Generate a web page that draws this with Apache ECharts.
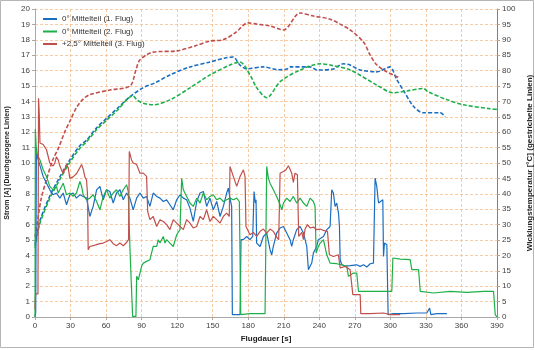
<!DOCTYPE html>
<html><head><meta charset="utf-8">
<script src="https://cdn.jsdelivr.net/npm/echarts@6/dist/echarts.min.js"></script>
<style>html,body{margin:0;padding:0;background:#fff}#c{width:535px;height:350px}</style>
</head><body><div id="c"></div>
<script>
// ---- data ----
const seriesNames = ['0° Mittelteil (1. Flug)', '0° Mittelteil (2. Flug)', '+2,5° Mittelteil (3. Flug)'];
const xTicks = [0,30,60,90,120,150,180,210,240,270,300,330,360,390];

// current [A], solid lines: [time s, current A]
const current1 = [[0,0],[0.6,0.3],[1.2,11.0],[2,10.4],[6.9,9.13],[12.5,8.26],[15.3,7.94],[18.1,8.05],[21,7.72],[23.8,8.05],[26.6,7.29],[29.4,7.94],[32.2,8.05],[35,7.72],[37.9,7.94],[40.7,7.83],[43.5,7.72],[46.3,6.53],[47.7,6.64],[49.1,7.18],[52,8.26],[54.8,8.48],[57.6,7.61],[60.4,8.26],[63.2,8.15],[66,7.4],[68.8,8.05],[71.7,8.26],[74.5,7.61],[77.3,8.05],[80.1,7.72],[82.9,6.96],[85.8,7.72],[88.6,8.05],[91.4,7.72],[94.2,7.83],[97,7.18],[99.8,8.05],[102.7,7.83],[105.5,7.72],[108.3,7.5],[111.1,7.61],[113.9,7.29],[116.7,6.96],[119.6,7.61],[122.4,7.94],[125.2,7.72],[128,7.61],[130.8,7.07],[133.6,6.21],[136.5,7.5],[139.3,8.05],[142.1,8.15],[144.9,7.18],[147.7,7.72],[150.5,6.96],[153.4,7.5],[156.2,6.53],[159,7.18],[161.8,8.05],[163.2,8.37],[164.6,7.72],[166,7.18],[166.6,0.15],[173.1,0.15],[173.9,5.02],[175.9,5.02],[178.7,5.23],[181.5,5.02],[183.8,5.23],[184.9,8.15],[186,7.4],[186.6,7.61],[187.1,4.8],[190,4.58],[192.8,5.23],[195.6,5.45],[198.4,4.37],[199.8,4.04],[201.2,4.58],[204,5.45],[206.9,5.78],[209.7,5.88],[212.5,5.45],[215.3,5.02],[216.7,4.58],[218.1,5.02],[220.9,5.67],[223.8,5.88],[226.6,5.45],[228,5.02],[229.4,4.58],[230.8,3.07],[232.2,3.29],[233.6,3.5],[235,4.15],[237.8,4.58],[239.2,5.02],[240.7,4.91],[243.5,5.23],[246.3,5.67],[249.1,5.88],[250.5,8.26],[251.9,8.05],[253.3,7.18],[254.7,7.4],[256.2,6.75],[257,5.88],[257.6,3.72],[259,3.39],[262,3.3],[266,3.33],[271.6,3.39],[274.5,3.29],[277.3,3.39],[280.1,3.24],[282.9,3.46],[285.7,3.5],[287.1,9.02],[288.5,8.48],[290,7.4],[291.4,7.5],[293.6,7.61],[294.2,3.93],[295,4.8],[297,4.69],[298.1,0.15],[302.6,0.22],[311.1,0.22],[322.4,0.26],[330.8,0.26],[333.1,0.58],[334.2,0.15],[339.3,0.22],[347.7,0.22]];

const current2 = [[0,0],[0.3,12.2],[1.2,10.64],[4.1,10.21],[6.9,9.56],[9.7,9.13],[12.5,8.48],[15.3,8.26],[18.1,8.48],[19.6,8.05],[21,8.05],[23.8,8.69],[26.6,7.94],[29.4,8.05],[32.2,7.83],[35,8.05],[37.9,8.8],[39.3,8.48],[40.7,7.94],[43.5,7.61],[46.3,7.72],[49.1,7.94],[52,7.5],[54.8,6.96],[57.6,7.83],[60.4,8.26],[63.2,7.72],[66,8.05],[68.8,8.26],[71.7,7.83],[74.5,8.26],[77.3,8.59],[78.7,8.15],[80.1,4.58],[81.5,4.58],[82.4,0.04],[85.2,0.04],[85.8,2.64],[87.2,2.42],[88.6,2.42],[90,3.29],[91.4,3.5],[94.2,3.61],[97,3.72],[99.8,4.58],[102.7,4.58],[104.1,5.02],[105.5,4.8],[108.3,5.23],[109.7,4.8],[111.1,5.02],[113.9,4.8],[116.7,4.58],[119.6,5.34],[122.4,5.67],[123.8,9.0],[125.2,8.26],[128,7.83],[130.8,7.4],[133.6,7.18],[136.5,7.72],[139.3,7.4],[142.1,8.05],[144.9,7.61],[147.7,7.83],[150.5,7.94],[153.4,7.61],[156.2,7.72],[159,7.5],[161.8,7.61],[164.6,7.72],[167.4,7.61],[170.3,7.72],[172.5,7.5],[173.7,0.15],[181.5,0.22],[194.2,0.22],[195.6,9.78],[197,9.02],[198.4,8.69],[201.2,8.26],[204,7.83],[206.9,7.29],[208.3,6.96],[209.7,7.4],[212.5,7.72],[215.3,7.5],[218.1,7.83],[220.9,7.4],[223.8,7.72],[226.6,7.4],[229.4,7.18],[232.2,7.72],[235,7.5],[236.4,7.18],[237.3,4.15],[239.2,4.58],[240.7,4.8],[243.5,5.02],[246.3,4.04],[249.1,3.5],[254.7,3.46],[259,3.39],[263.2,3.29],[264.6,2.64],[268.8,2.85],[271.6,2.85],[273.1,1.66],[282.9,1.66],[294.2,1.66],[301.2,1.66],[302.1,3.83],[308.3,3.76],[316.7,3.72],[318.1,3.07],[323.8,3.07],[325.2,1.66],[336.4,1.56],[350.5,1.66],[364.6,1.6],[378.7,1.66],[387.1,1.66],[388.5,0.15],[390,0]];

const current3 = [[0,0.5],[0.5,1.5],[2.5,1.5],[3,14.2],[3.6,13.2],[4.2,11.3],[6.9,11.2],[9.7,10.86],[12.5,10.0],[15.3,9.8],[16.7,10.0],[18.1,10.4],[19.6,10.2],[21,9.8],[23.8,9.3],[26.6,9.9],[28,9.7],[29.4,9.0],[32.2,9.1],[35,9.3],[37.9,9.7],[39.3,9.9],[40.7,9.6],[42.1,9.1],[43.5,8.9],[44.3,8.0],[44.9,4.37],[46.3,4.58],[49.1,4.63],[52,4.7],[54.8,4.76],[57.6,4.8],[60.4,4.9],[63.2,5.02],[66,4.76],[68.8,4.63],[71.7,4.8],[74.5,4.63],[77.3,4.84],[79,5.02],[79.6,10.75],[81.5,10.2],[82.9,10.0],[85.8,9.9],[88.6,9.34],[91.4,9.34],[94.2,9.13],[95.1,6.86],[97,6.32],[99.8,6.53],[102.7,5.88],[105.5,6.32],[108.3,6.2],[111.1,6.0],[113.9,5.67],[116.7,6.32],[119.6,6.1],[122.4,5.88],[125.2,5.67],[128,6.32],[130.8,6.1],[133.6,5.78],[136.5,5.88],[139.3,6.53],[142.1,6.32],[144.9,6.96],[147.7,6.2],[150.5,6.53],[153.4,6.32],[156.2,6.1],[159,6.53],[161.8,6.75],[164,6.53],[164.6,9.78],[167.4,9.13],[170.3,8.48],[173.1,9.13],[175.9,9.56],[177.3,9.13],[178.1,5.88],[181.5,5.34],[184.3,5.49],[187.1,5.23],[190,5.56],[192.8,5.71],[195.6,5.45],[198.4,5.71],[201.2,5.56],[204,5.19],[205.7,5.02],[206.9,9.34],[209.7,9.45],[211.9,9.56],[213.9,9.82],[215.3,9.6],[216.7,9.34],[218.1,8.74],[219.5,9.34],[221.5,9.23],[222.6,5.23],[225.2,5.49],[226.6,5.02],[228,5.71],[230,6.0],[232.2,5.78],[235,5.84],[237.8,5.67],[240.7,5.71],[243.5,5.62],[246.9,5.56],[248.5,4.04],[251.9,3.93],[256.1,4.04],[257.6,3.18],[261.8,3.29],[266,3.07],[267.4,3.18],[268.3,1.45],[274.5,1.45],[275,0.22],[282.9,0.22],[294.2,0.26],[299.8,0.15],[308.3,0.15]];

// winding temperature [°C], dashed lines: [time s, temperature °C]
const temp1 = [[0,23.5],[4,31],[12.5,39.3],[21,45.5],[29.4,51],[37.9,55.6],[43.8,57.5],[52,61.4],[60.7,64.6],[70,67.9],[80.1,71.5],[91.1,74.4],[101.2,76],[113.9,78.6],[130.8,81.2],[147.7,82.8],[160.4,84.1],[167.2,84.4],[173,81.8],[178.7,80.6],[192.5,81.2],[205.2,80.3],[212.8,80.5],[215.3,81.2],[232.2,81.2],[238.1,80.2],[251.7,80.5],[260.1,82.2],[266,81.8],[274.5,80.2],[288.6,79.6],[297,80.9],[299.8,81.2],[305.5,77],[310.8,73.7],[319.3,68.5],[327.7,66.3],[342.1,66.3],[346.3,65]];
const temp2 = [[0,22.5],[4,30.2],[12.5,38.5],[21,44.7],[29.4,50.2],[37.9,54.8],[43.8,57],[52,60.8],[60.7,64],[70,67.3],[78,70.8],[82.7,71.8],[86,70.5],[91.4,69.4],[99.8,68.9],[113.9,70.5],[130.8,74.4],[147.7,78.6],[164.6,81.8],[173,82.8],[181.5,78.6],[187.2,74.4],[195.6,71.2],[206.9,76.4],[223.8,80.2],[240.7,82.2],[249.1,81.8],[266,80.2],[288.6,75.3],[302.4,72.8],[314.2,73.4],[327.7,74.2],[332,73.1],[348.1,70.5],[361.6,68.9],[384.4,67.6],[390,67.4]];
const temp3 = [[0,26],[1,28],[5,38],[10,45],[15,51],[20,55],[25,60],[30,64],[35,68],[40,70.5],[45.7,72.1],[63,73.7],[80.2,75],[85.2,80.2],[88.6,83.5],[99.6,86],[119.6,86.4],[135,88],[147.7,89.6],[158.7,90],[168.8,92.2],[180,95.5],[187.2,95.1],[198.4,94.5],[209.7,93.2],[223.8,98.7],[235,97.7],[249.1,96.7],[257.6,95.1],[266,93.2],[277.3,89.3],[283,85],[288.6,81.8],[297,79.6],[308,77.6]];

const colors = ['#1a6ec0', '#1db04a', '#c0504d'];

const grid = {color:'#f6b98a', dash:[3,2]};
const chart = echarts.init(document.getElementById('c'), null, {renderer:'canvas'});
const txt = {fontFamily:'Liberation Sans, Arial, sans-serif', fontSize:8, color:'#404040'};

function solid(name, data, c){
  return {name, type:'line', yAxisIndex:0, data, showSymbol:false, symbol:'none',
    lineStyle:{color:c, width:1.2}, itemStyle:{color:c}, animation:false, z:3};
}
function dashed(name, data, c){
  return {name, type:'line', yAxisIndex:1, data, showSymbol:false, symbol:'none', smooth:0.3,
    lineStyle:{color:c, width:1.6, type:[4,2]}, itemStyle:{color:c}, animation:false, z:2};
}

chart.setOption({
  animation:false,
  backgroundColor:'#fff',
  grid:{left:35, right:38, top:9, bottom:33, containLabel:false, outerBoundsMode:'none'},
  legend:{
    data:seriesNames, orient:'vertical', left:43, top:15, itemGap:4.5, padding:0,
    itemWidth:14, itemHeight:2, icon:'rect',
    textStyle:Object.assign({}, txt, {fontSize:8, color:'#333'})
  },
  graphic:[{type:'rect', shape:{x:0.5,y:0.5,width:533,height:347}, style:{fill:'none', stroke:'#b5b5b5', lineWidth:1}, silent:true, z:-1}],
  xAxis:{
    type:'value', min:0, max:390, interval:30,
    name:'Flugdauer [s]', nameLocation:'middle', nameGap:17,
    nameTextStyle:Object.assign({}, txt, {fontWeight:'bold', color:'#222'}),
    axisLine:{lineStyle:{color:'#a8a8a8'}}, axisTick:{show:true, length:3, lineStyle:{color:'#a8a8a8'}},
    axisLabel:Object.assign({}, txt, {margin:5}),
    splitLine:{show:true, lineStyle:{color:grid.color, type:grid.dash, width:1, opacity:0.75}}
  },
  yAxis:[{
    type:'value', min:0, max:20, interval:1, position:'left',
    name:'Strom [A] (Durchgezogene Linien)', nameLocation:'middle', nameGap:22, nameRotate:90,
    nameTextStyle:Object.assign({}, txt, {fontWeight:'bold', fontSize:7, color:'#222'}),
    axisLine:{show:true, lineStyle:{color:'#a8a8a8'}}, axisTick:{show:true, length:3, lineStyle:{color:'#a8a8a8'}},
    axisLabel:Object.assign({}, txt, {margin:5}),
    splitLine:{show:true, lineStyle:{color:grid.color, type:grid.dash, width:1, opacity:0.75}}
  },{
    type:'value', min:0, max:100, interval:5, position:'right',
    name:'Wicklungstemperatur [°C] (gestrichelte Linien)', nameLocation:'middle', nameGap:24, nameRotate:90,
    nameTextStyle:Object.assign({}, txt, {fontWeight:'bold', color:'#222'}),
    axisLine:{show:true, lineStyle:{color:'#a07a52', width:1}}, axisTick:{show:true, length:3, lineStyle:{color:'#a8a8a8'}},
    axisLabel:Object.assign({}, txt, {margin:5}),
    splitLine:{show:false}
  }],
  series:[
    dashed('T1', temp1, colors[0]),
    dashed('T2', temp2, colors[1]),
    dashed('T3', temp3, colors[2]),
    solid(seriesNames[0], current1, colors[0]),
    solid(seriesNames[1], current2, colors[1]),
    solid(seriesNames[2], current3, colors[2])
  ]
});
</script></body></html>
